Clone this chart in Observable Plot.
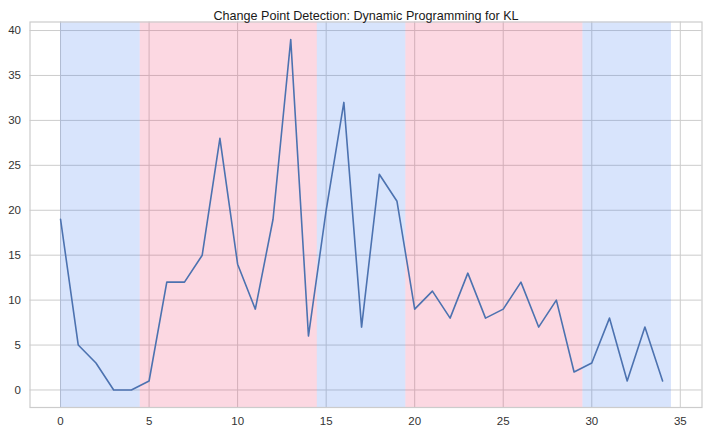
<!DOCTYPE html>
<html>
<head>
<meta charset="utf-8">
<script src="https://cdn.jsdelivr.net/npm/d3@7"></script>
<script src="https://cdn.jsdelivr.net/npm/@observablehq/plot@0.6"></script>
<style>
  html, body { margin: 0; padding: 0; background: #fff; }
  #chart svg { display: block; }
</style>
</head>
<body>
<div id="chart"></div>
<script>
const title = "Change Point Detection: Dynamic Programming for KL";
const xs = d3.range(35);
const values = [19, 5, 3, 0, 0, 1, 12, 12, 15, 28, 14, 9, 19, 39, 6, 20, 32, 7, 24, 21, 9, 11, 8, 13, 8, 9, 12, 7, 10, 2, 3, 8, 1, 7, 1];
const spanStarts = [0, 4.5, 14.5, 19.5, 29.5];
const spanEnds = [4.5, 14.5, 19.5, 29.5, 34.5];
const spanKinds = ["blue", "pink", "blue", "pink", "blue"];
const xTicks = [0, 5, 10, 15, 20, 25, 30, 35];
const yTicks = [0, 5, 10, 15, 20, 25, 30, 35, 40];

const series = xs.map((x, i) => ({x, y: values[i]}));
const spans = spanStarts.map((s, i) => ({x1: s, x2: spanEnds[i], kind: spanKinds[i]}));
const spanColor = {blue: "#3c78f0", pink: "#f03c6e"};

const chart = Plot.plot({
  width: 708,
  height: 434,
  marginLeft: 29.5,
  marginRight: 6.5,
  marginTop: 21.5,
  marginBottom: 27,
  style: {fontFamily: "'Liberation Sans', Arial, sans-serif", fontSize: "11.5px", color: "#333"},
  x: {domain: [-1.725, 36.225], ticks: xTicks, tickSize: 0, tickPadding: 9, label: null},
  y: {domain: [-1.95, 40.95], ticks: yTicks, tickSize: 0, tickPadding: 9, label: null},
  marks: [
    Plot.gridX(xTicks, {stroke: "#cccccc", strokeOpacity: 1, strokeWidth: 1}),
    Plot.gridY(yTicks, {stroke: "#cccccc", strokeOpacity: 1, strokeWidth: 1}),
    Plot.rectX(spans, {x1: "x1", x2: "x2", y1: -1.95, y2: 40.95, fill: d => spanColor[d.kind], fillOpacity: 0.2}),
    Plot.frame({stroke: "#cccccc", strokeWidth: 1.2}),
    Plot.line(series, {x: "x", y: "y", stroke: "#4c72b0", strokeWidth: 1.6}),
    Plot.axisX({ticks: xTicks, tickSize: 0, tickPadding: 9, fill: "#333"}),
    Plot.axisY({ticks: yTicks, tickSize: 0, tickPadding: 9, fill: "#333"}),
    Plot.text([title], {frameAnchor: "top", dy: -11, text: d => d, fontSize: 12.6, fill: "#1a1a1a"})
  ]
});
document.getElementById("chart").appendChild(chart);
</script>
</body>
</html>
